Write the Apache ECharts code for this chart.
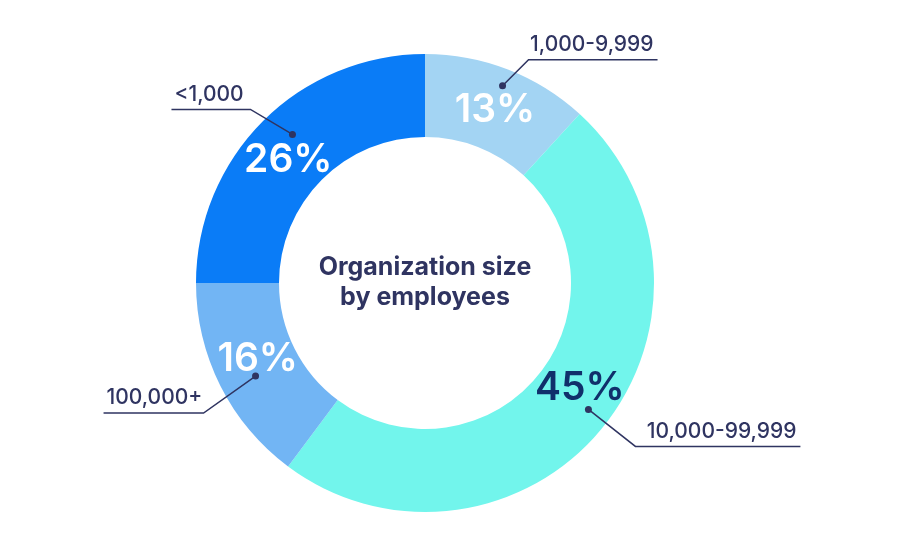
<!DOCTYPE html>
<html>
<head>
<meta charset="utf-8">
<script src="https://cdn.jsdelivr.net/npm/echarts@6/dist/echarts.min.js"></script>
<style>
  html, body { margin: 0; padding: 0; background: #fff; }
  #chart { width: 900px; height: 545px; }
</style>
</head>
<body>
<div id="chart"></div>
<script>
// categories and values (arc sizes as drawn, printed labels as shown)
var categories = ['1,000-9,999', '10,000-99,999', '100,000+', '<1,000'];
var arcShares = [11.8, 48.4, 14.8, 25.0];
var pctLabels = ['13%', '45%', '16%', '26%'];
var centerTitle = 'Organization size\nby employees';

var sliceColors = ['#a3d4f3', '#72f5ec', '#72b5f4', '#0a7cf7'];
var pctColors = ['#ffffff', '#10306b', '#ffffff', '#ffffff'];
// small nudges of the in-slice numbers
var pctNudge = [[1, 5], [8, -16], [3, -9], [-2, 12]];
// callout: dot nudge, elbow offset from the dot, line run length, side (+1 right / -1 left)
var callouts = [
  { nx: 4, ny: -8, dx: 26, dy: -26, len: 129, side: 1 },
  { nx: 7, ny: -3, dx: 47, dy: 37, len: 165, side: 1 },
  { nx: 12, ny: 2, dx: -52, dy: 37, len: 100, side: -1 },
  { nx: 11, ny: -5, dx: -42, dy: -25, len: 79, side: -1 }
];

var ink = '#2f3461';
var font = 'Inter, "Open Sans", sans-serif';
var cx = 425, cy = 283, rIn = 146, rOut = 229, rDot = 203;

var total = 0;
arcShares.forEach(function (v) { total += v; });
var mids = [];
var acc = 0;
arcShares.forEach(function (v) { mids.push(acc + v / 2); acc += v; });

var pieData = categories.map(function (c, i) {
  return {
    name: c,
    value: arcShares[i],
    itemStyle: { color: sliceColors[i] },
    label: { color: pctColors[i], offset: pctNudge[i] }
  };
});

var chart = echarts.init(document.getElementById('chart'));
chart.setOption({
  backgroundColor: '#fff',
  animation: false,
  polar: { center: [cx, cy], radius: rOut },
  angleAxis: {
    type: 'value', min: 0, max: total, startAngle: 90, clockwise: true,
    axisLine: { show: false }, axisTick: { show: false },
    axisLabel: { show: false }, splitLine: { show: false }
  },
  radiusAxis: {
    type: 'value', min: 0, max: rOut,
    axisLine: { show: false }, axisTick: { show: false },
    axisLabel: { show: false }, splitLine: { show: false }
  },
  title: {
    text: centerTitle,
    left: cx - 5, top: cy - 6,
    textAlign: 'center', textVerticalAlign: 'middle',
    textStyle: { color: ink, fontSize: 25, fontWeight: 'bold', fontFamily: font, lineHeight: 30 }
  },
  series: [
    {
      type: 'pie',
      z: 1,
      center: [cx, cy],
      radius: [rIn, rOut],
      startAngle: 90,
      clockwise: true,
      silent: true,
      label: {
        show: true,
        position: 'inside',
        fontSize: 39,
        fontWeight: 600,
        fontFamily: font,
        formatter: function (p) { return pctLabels[p.dataIndex]; }
      },
      labelLine: { show: false },
      data: pieData
    },
    {
      type: 'custom',
      coordinateSystem: 'polar',
      z: 20,
      silent: true,
      data: mids.map(function (m) { return [rDot, m]; }),
      renderItem: function (params, api) {
        var i = params.dataIndex;
        var o = callouts[i];
        var c = api.coord([api.value(0), api.value(1)]);
        var p = [c[0] + o.nx, c[1] + o.ny];
        var ex = p[0] + o.dx, ey = p[1] + o.dy;
        var fx = ex + o.len * o.side;
        return {
          type: 'group',
          children: [
            {
              type: 'polyline',
              shape: { points: [p, [ex, ey], [fx, ey]] },
              style: { stroke: ink, lineWidth: 1.5, fill: null }
            },
            {
              type: 'circle',
              shape: { cx: p[0], cy: p[1], r: 3.5 },
              style: { fill: ink }
            },
            {
              type: 'text',
              style: {
                text: categories[i],
                x: o.side > 0 ? fx - 4 : fx + 3,
                y: ey - 15,
                align: o.side > 0 ? 'right' : 'left',
                verticalAlign: 'middle',
                fontSize: 21,
                fontWeight: 500,
                fontFamily: font,
                fill: ink
              }
            }
          ]
        };
      }
    }
  ]
});
</script>
</body>
</html>
